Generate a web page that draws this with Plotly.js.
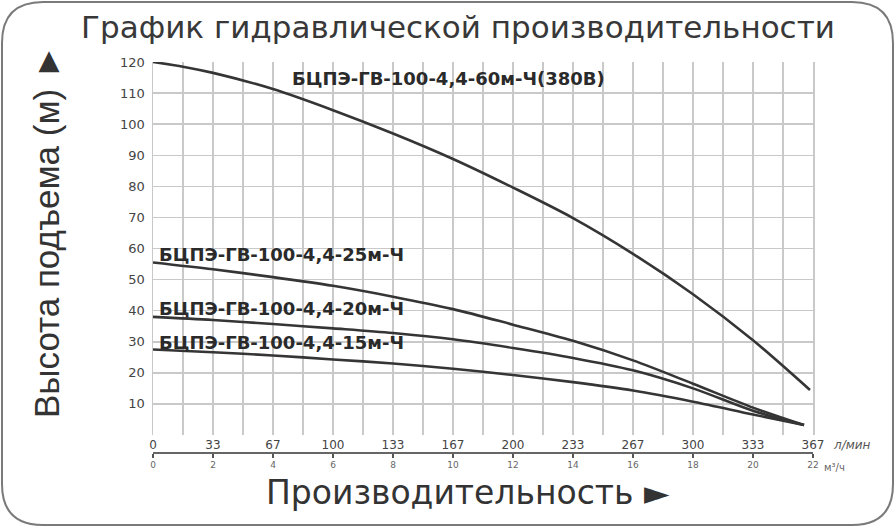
<!DOCTYPE html>
<html>
<head>
<meta charset="utf-8">
<script src="https://cdn.plot.ly/plotly-3.0.1.min.js"></script>
<style>
  html, body { margin: 0; padding: 0; background: #fff; }
  #plot { width: 896px; height: 528px; }
</style>
</head>
<body>
<div id="plot"></div>
<script>
// flow in m3/h, head in m
var q60 = [0, 1, 2, 4, 6, 8, 10, 12, 14, 16, 18, 20, 21.9];
var h60 = [120, 118.5, 116.5, 111.3, 104.5, 97, 88.8, 79.6, 69.8, 58.3, 45.3, 30.5, 14.5];

var q25 = [0, 2, 4, 6, 8, 10, 12, 14, 16, 18, 20, 21.7];
var h25 = [55.5, 53.3, 50.8, 48, 44.5, 40.5, 35.5, 30.3, 24, 16.5, 8.8, 3.2];

var q20 = [0, 2, 4, 6, 8, 10, 12, 14, 16, 18, 20, 21.7];
var h20 = [38, 37, 35.7, 34.3, 32.8, 30.8, 28, 24.8, 20.8, 15, 7.8, 3.2];

var q15 = [0, 2, 4, 6, 8, 10, 12, 14, 16, 18, 20, 21.7];
var h15 = [27.5, 26.6, 25.6, 24.3, 23, 21.3, 19.3, 17, 14.3, 10.7, 6.6, 3.2];

var names = ['БЦПЭ-ГВ-100-4,4-60м-Ч(380В)', 'БЦПЭ-ГВ-100-4,4-25м-Ч', 'БЦПЭ-ГВ-100-4,4-20м-Ч', 'БЦПЭ-ГВ-100-4,4-15м-Ч'];
// where each name sits (m3/h, m)
var nameQ = [4.55, 0.12, 0.12, 0.12];
var nameH = [114.8, 58.2, 40.8, 29.6];

var m3hTicks = [0, 2, 4, 6, 8, 10, 12, 14, 16, 18, 20, 22];
var lpmTicks = ['0', '33', '67', '100', '133', '167', '200', '233', '267', '300', '333', '367'];
var headTicks = [10, 20, 30, 40, 50, 60, 70, 80, 90, 100, 110, 120];

var W = 896, H = 528;
function px(x) { return x / W; }
function py(y) { return 1 - y / H; }

var curves = [[q60, h60], [q25, h25], [q20, h20], [q15, h15]];
var data = [];
for (var i = 0; i < curves.length; i++) {
  data.push({
    x: curves[i][0],
    y: curves[i][1],
    type: 'scatter',
    mode: 'lines',
    name: names[i],
    hoverinfo: 'skip',
    line: { color: '#353535', width: 2.6, shape: 'spline', smoothing: 0.9 }
  });
}
// empty traces so the two lower scales get drawn
['x2', 'x3'].forEach(function (ax) {
  data.push({
    x: m3hTicks, y: m3hTicks.map(function () { return null; }),
    xaxis: ax, yaxis: 'y', type: 'scatter', mode: 'lines',
    hoverinfo: 'skip', showlegend: false
  });
});

var gridColor = '#c9c9c9';

// rounded frame round the whole picture
var r = 41, x0 = 2, x1 = 893, y0 = 2, y1 = 525;
var rx = r / W, ry = r / H;
var L = px(x0), R = px(x1), T = py(y0), B = py(y1);
var framePath = 'M ' + (L + rx) + ',' + T +
  ' L ' + (R - rx) + ',' + T + ' Q ' + R + ',' + T + ' ' + R + ',' + (T - ry) +
  ' L ' + R + ',' + (B + ry) + ' Q ' + R + ',' + B + ' ' + (R - rx) + ',' + B +
  ' L ' + (L + rx) + ',' + B + ' Q ' + L + ',' + B + ' ' + L + ',' + (B + ry) +
  ' L ' + L + ',' + (T - ry) + ' Q ' + L + ',' + T + ' ' + (L + rx) + ',' + T + ' Z';

var layout = {
  width: W,
  height: H,
  showlegend: false,
  paper_bgcolor: '#fff',
  plot_bgcolor: '#fff',
  margin: { l: 0, r: 0, t: 0, b: 0, pad: 0 },
  title: {
    text: 'График гидравлической производительности',
    x: px(458), y: py(27), xanchor: 'center', yanchor: 'middle',
    font: { family: 'DejaVu Sans', size: 31, color: '#383838' }
  },
  xaxis: {
    domain: [px(153), px(813)],
    range: [0, 22],
    tick0: 0, dtick: 1,
    showgrid: true, gridcolor: gridColor, gridwidth: 1.5,
    zeroline: false, showline: false, showticklabels: false, ticks: ''
  },
  xaxis2: {
    overlaying: 'x', anchor: 'free', position: py(436),
    range: [0, 22],
    tickmode: 'array', tickvals: m3hTicks, ticktext: lpmTicks,
    showgrid: false, zeroline: false, showline: false, ticks: '',
    tickfont: { family: 'DejaVu Sans', size: 12, color: '#444' }
  },
  xaxis3: {
    overlaying: 'x', anchor: 'free', position: py(452),
    range: [0, 22],
    tickmode: 'array', tickvals: m3hTicks, ticktext: m3hTicks.map(String),
    showgrid: false, zeroline: false,
    showline: true, linecolor: '#666', linewidth: 1.5,
    ticks: 'outside', ticklen: 4, tickwidth: 1.5, tickcolor: '#555',
    tickfont: { family: 'DejaVu Sans', size: 9, color: '#666' }
  },
  yaxis: {
    domain: [py(435), py(62)],
    range: [0, 120],
    tickmode: 'array', tickvals: headTicks,
    showgrid: true, gridcolor: gridColor, gridwidth: 1.5,
    zeroline: false, ticks: '',
    showline: true, mirror: true, linecolor: gridColor, linewidth: 1.5,
    ticklabelstandoff: 4,
    tickfont: { family: 'DejaVu Sans', size: 13, color: '#444' }
  },
  shapes: [{
    type: 'path', xref: 'paper', yref: 'paper', path: framePath,
    line: { color: '#7a7a7a', width: 2 }
  }],
  annotations: [
    {
      xref: 'paper', yref: 'paper', x: px(46), y: py(231),
      xanchor: 'center', yanchor: 'middle', textangle: -90,
      text: 'Высота подъема (м) ►', showarrow: false,
      font: { family: 'Liberation Sans', size: 35, color: '#333' }
    },
    {
      xref: 'paper', yref: 'paper', x: px(468), y: py(492),
      xanchor: 'center', yanchor: 'middle',
      text: 'Производительность ►', showarrow: false,
      font: { family: 'DejaVu Sans', size: 33, color: '#333' }
    },
    {
      xref: 'x', yref: 'paper', x: 22, y: py(445), xshift: 18,
      xanchor: 'left', yanchor: 'middle', text: '<i>л/мин</i>', showarrow: false,
      font: { family: 'DejaVu Sans', size: 12, color: '#555' }
    },
    {
      xref: 'x', yref: 'paper', x: 22, y: py(467), xshift: 9,
      xanchor: 'left', yanchor: 'middle', text: 'м³/ч', showarrow: false,
      font: { family: 'DejaVu Sans', size: 10, color: '#666' }
    }
  ]
};

for (var i = 0; i < names.length; i++) {
  layout.annotations.push({
    xref: 'x', yref: 'y', x: nameQ[i], y: nameH[i],
    xanchor: 'left', yanchor: 'middle',
    text: '<b>' + names[i] + '</b>', showarrow: false,
    font: { family: 'DejaVu Sans', size: 18, color: '#2a2a2a' }
  });
}

Plotly.newPlot('plot', data, layout, { displayModeBar: false, staticPlot: true });
</script>
</body>
</html>
